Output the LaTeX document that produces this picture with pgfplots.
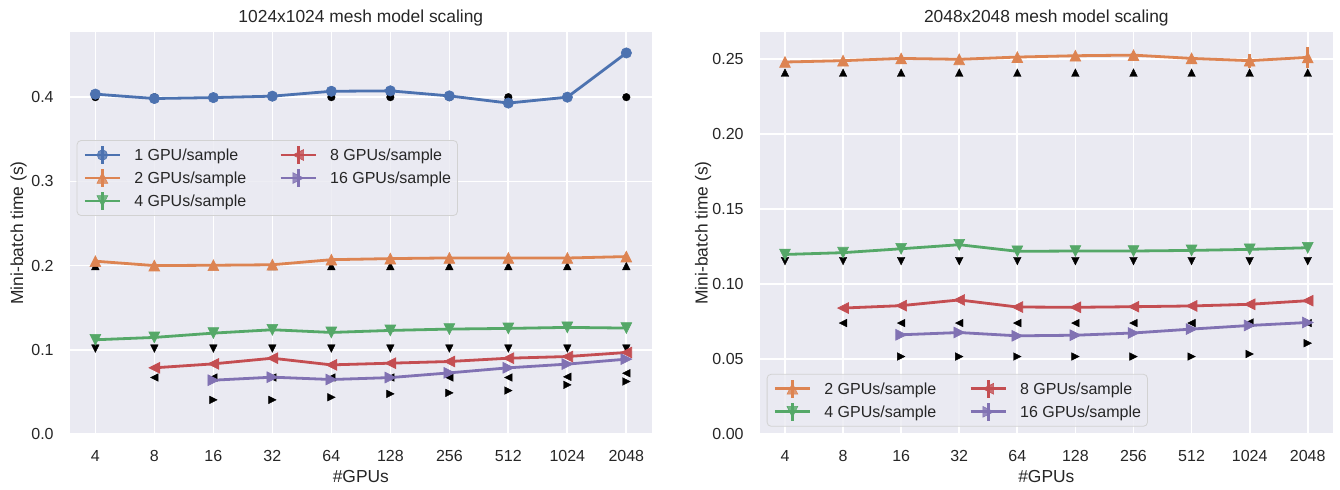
\documentclass[border=0pt]{standalone}
\usepackage{fontspec}
\setmainfont{Liberation Sans}
\usepackage{pgfplots}
\pgfplotsset{compat=1.18}
\definecolor{bg}{HTML}{EAEAF2}
\definecolor{txt}{HTML}{262626}
\definecolor{sbblue}{HTML}{4C72B0}
\definecolor{sborange}{HTML}{DD8452}
\definecolor{sbgreen}{HTML}{55A868}
\definecolor{sbred}{HTML}{C44E52}
\definecolor{sbpurple}{HTML}{8172B3}
\pgfdeclareplotmark{mtu}{\pgfpathmoveto{\pgfqpoint{0pt}{\pgfplotmarksize}}\pgfpathlineto{\pgfqpoint{-\pgfplotmarksize}{-\pgfplotmarksize}}\pgfpathlineto{\pgfqpoint{\pgfplotmarksize}{-\pgfplotmarksize}}\pgfpathclose\pgfusepathqfillstroke}
\pgfdeclareplotmark{mtd}{\pgfpathmoveto{\pgfqpoint{0pt}{-\pgfplotmarksize}}\pgfpathlineto{\pgfqpoint{-\pgfplotmarksize}{\pgfplotmarksize}}\pgfpathlineto{\pgfqpoint{\pgfplotmarksize}{\pgfplotmarksize}}\pgfpathclose\pgfusepathqfillstroke}
\pgfdeclareplotmark{mtl}{\pgfpathmoveto{\pgfqpoint{-\pgfplotmarksize}{0pt}}\pgfpathlineto{\pgfqpoint{\pgfplotmarksize}{\pgfplotmarksize}}\pgfpathlineto{\pgfqpoint{\pgfplotmarksize}{-\pgfplotmarksize}}\pgfpathclose\pgfusepathqfillstroke}
\pgfdeclareplotmark{mtr}{\pgfpathmoveto{\pgfqpoint{\pgfplotmarksize}{0pt}}\pgfpathlineto{\pgfqpoint{-\pgfplotmarksize}{\pgfplotmarksize}}\pgfpathlineto{\pgfqpoint{-\pgfplotmarksize}{-\pgfplotmarksize}}\pgfpathclose\pgfusepathqfillstroke}
\pgfplotsset{
  sb/.style={
    scale only axis, height=201pt,
    axis background/.style={fill=bg},
    axis line style={draw=none},
    grid=major, major grid style={white, line width=0.85pt},
    major tick length=0pt,
    xmin=-0.43, xmax=9.43, ymin=0,
    xtick={0,...,9}, xticklabels={4,8,16,32,64,128,256,512,1024,2048},
    tick label style={font=\fontsize{8}{9.6}\selectfont, text=txt},
    xticklabel style={anchor=base, yshift=-13.85pt, inner sep=0pt},
    yticklabel style={anchor=east, xshift=-8pt, inner sep=0pt},
    /pgf/number format/assume math mode=true,
    scaled y ticks=false,
    every axis title/.style={font=\fontsize{8.7}{10}\selectfont, text=txt, at={(axis description cs:0.5,1)}, anchor=base, yshift=4.65pt},
    xlabel={\#GPUs}, ylabel={Mini-batch time (s)},
    every axis x label/.style={font=\fontsize{8.7}{10}\selectfont, text=txt, at={(axis description cs:0.5,0)}, anchor=base, yshift=-24pt},
    legend style={font=\fontsize{8}{9.6}\selectfont, text=txt, fill=bg, fill opacity=0.8, text opacity=1, draw=gray!35, rounded corners=2pt, inner xsep=3.2pt, inner ysep=1.5pt,
      nodes={inner sep=0pt, text height=8.6pt, text depth=2.9pt},
      /tikz/every odd column/.style={column sep=6.5pt},
      /tikz/every even column/.style={column sep=16.5pt}},
    legend cell align=left, legend columns=2,
    legend image code/.code={\draw[mark=none] (8.75pt,-4.4pt) -- (8.75pt,4.4pt);
      \draw[mark repeat=2, mark phase=2] plot coordinates {(0pt,0pt)(8.75pt,0pt)(17.5pt,0pt)};},
  },
  sblue/.style={sbblue, line width=1.4pt, mark=*, mark size=2.6pt, mark options={line width=0.3pt, fill=sbblue}},
  sorange/.style={sborange, line width=1.4pt, mark=mtu, mark size=2.7pt, mark options={line width=0.3pt, fill=sborange}},
  sgreen/.style={sbgreen, line width=1.4pt, mark=mtd, mark size=2.7pt, mark options={line width=0.3pt, fill=sbgreen}},
  sred/.style={sbred, line width=1.4pt, mark=mtl, mark size=2.7pt, mark options={line width=0.3pt, fill=sbred}},
  spurple/.style={sbpurple, line width=1.4pt, mark=mtr, mark size=2.7pt, mark options={line width=0.3pt, fill=sbpurple}},
  ideal/.style={only marks, black, mark size=1.9pt, mark options={line width=0.2pt, fill=black}},
}
\begin{document}
\begin{tikzpicture}
\path[use as bounding box] (0,0) rectangle (670pt,244.5pt);
% ---------------- left ----------------
\begin{axis}[sb, at={(35pt,27.5pt)}, anchor=south west, width=290.85pt,
  ymax=0.4774, ytick={0,0.1,0.2,0.3,0.4},
  yticklabel style={/pgf/number format/.cd, fixed, fixed zerofill, precision=1},
  title={1024x1024 mesh model scaling},
  every axis y label/.style={font=\fontsize{8.7}{10}\selectfont, text=txt, at={(axis description cs:0,0.5)}, xshift=-25.75pt, rotate=90, anchor=center},
  legend style={at={(axis description cs:0.0115,0.731)}, anchor=north west}]
\addplot[ideal, mark=*, forget plot] coordinates {(0,0.4)(1,0.4)(2,0.4)(3,0.4)(4,0.4)(5,0.4)(6,0.4)(7,0.4)(8,0.4)(9,0.4)};
\addplot[ideal, mark=mtu, forget plot] coordinates {(0,0.1995)(1,0.1995)(2,0.1995)(3,0.1995)(4,0.1995)(5,0.1995)(6,0.1995)(7,0.1995)(8,0.1995)(9,0.1995)};
\addplot[ideal, mark=mtd, forget plot] coordinates {(0,0.1015)(1,0.1015)(2,0.1015)(3,0.1015)(4,0.1015)(5,0.1015)(6,0.1015)(7,0.1015)(8,0.1015)(9,0.1015)};
\addplot[ideal, mark=mtl, forget plot] coordinates {(1,0.0671)(2,0.0671)(3,0.0671)(4,0.0671)(5,0.0671)(6,0.0671)(7,0.0671)(8,0.0679)(9,0.0722)};
\addplot[ideal, mark=mtr, forget plot] coordinates {(2,0.0405)(3,0.0405)(4,0.0437)(5,0.0476)(6,0.0488)(7,0.0516)(8,0.0583)(9,0.0623)};
\addplot[sblue, forget plot] coordinates {(0,0.4036)(1,0.3984)(2,0.3995)(3,0.4012)(4,0.4070)(5,0.4075)(6,0.4015)(7,0.3930)(8,0.4000)(9,0.4525)};
\addplot[sorange, forget plot] coordinates {(0,0.2052)(1,0.2000)(2,0.2004)(3,0.2010)(4,0.2070)(5,0.2083)(6,0.2091)(7,0.2091)(8,0.2090)(9,0.2107)};
\addplot[sgreen, forget plot] coordinates {(0,0.1119)(1,0.1147)(2,0.1198)(3,0.1238)(4,0.1206)(5,0.1230)(6,0.1246)(7,0.1254)(8,0.1266)(9,0.1258)};
\addplot[sred, forget plot] coordinates {(1,0.0786)(2,0.0833)(3,0.0900)(4,0.0821)(5,0.0841)(6,0.0861)(7,0.0900)(8,0.0920)(9,0.0968)};
\addplot[spurple, forget plot] coordinates {(2,0.0639)(3,0.0675)(4,0.0647)(5,0.0670)(6,0.0726)(7,0.0786)(8,0.0830)(9,0.0889)};
\addlegendimage{sblue}\addlegendentry{1 GPU/sample}
\addlegendimage{sred}\addlegendentry{8 GPUs/sample}
\addlegendimage{sorange}\addlegendentry{2 GPUs/sample}
\addlegendimage{spurple}\addlegendentry{16 GPUs/sample}
\addlegendimage{sgreen}\addlegendentry{4 GPUs/sample}
\end{axis}
% ---------------- right ----------------
\begin{axis}[sb, at={(380pt,27.5pt)}, anchor=south west, width=286.35pt,
  ymax=0.2678, ytick={0,0.05,0.1,0.15,0.2,0.25},
  yticklabel style={/pgf/number format/.cd, fixed, fixed zerofill, precision=2},
  title={2048x2048 mesh model scaling},
  every axis y label/.style={font=\fontsize{8.7}{10}\selectfont, text=txt, at={(axis description cs:0,0.5)}, xshift=-28.5pt, rotate=90, anchor=center},
  legend style={at={(axis description cs:0.0117,0.0182)}, anchor=south west}]
\addplot[ideal, mark=mtu, forget plot] coordinates {(0,0.2407)(1,0.2407)(2,0.2407)(3,0.2407)(4,0.2407)(5,0.2407)(6,0.2407)(7,0.2407)(8,0.2407)(9,0.2407)};
\addplot[ideal, mark=mtd, forget plot] coordinates {(0,0.1152)(1,0.1152)(2,0.1152)(3,0.1152)(4,0.1152)(5,0.1152)(6,0.1152)(7,0.1152)(8,0.1152)(9,0.1152)};
\addplot[ideal, mark=mtl, forget plot] coordinates {(1,0.0739)(2,0.0739)(3,0.0739)(4,0.0739)(5,0.0739)(6,0.0739)(7,0.0739)(8,0.0743)(9,0.0739)};
\addplot[ideal, mark=mtr, forget plot] coordinates {(2,0.0516)(3,0.0516)(4,0.0516)(5,0.0516)(6,0.0516)(7,0.0516)(8,0.0533)(9,0.0605)};
\addplot[sorange, forget plot, error bars/.cd, y dir=both, y explicit, error mark=none, error bar style={line width=1.4pt}] coordinates {
 (0,0.2478) +- (0,0.0008) (1,0.2487) +- (0,0.0008) (2,0.2502) +- (0,0.0010) (3,0.2496) +- (0,0.0008) (4,0.2511) +- (0,0.0010)
 (5,0.2520) +- (0,0.0010) (6,0.2524) +- (0,0.0010) (7,0.2502) +- (0,0.0012) (8,0.2487) +- (0,0.0046) (9,0.2509) +- (0,0.0069)};
\addplot[sgreen, forget plot] coordinates {(0,0.1196)(1,0.1208)(2,0.1234)(3,0.1261)(4,0.1217)(5,0.1219)(6,0.1219)(7,0.1223)(8,0.1230)(9,0.1241)};
\addplot[sred, forget plot] coordinates {(1,0.0839)(2,0.0855)(3,0.0893)(4,0.0846)(5,0.0844)(6,0.0848)(7,0.0853)(8,0.0864)(9,0.0888)};
\addplot[spurple, forget plot] coordinates {(2,0.0661)(3,0.0676)(4,0.0654)(5,0.0658)(6,0.0673)(7,0.0699)(8,0.0723)(9,0.0743)};
\addlegendimage{sorange}\addlegendentry{2 GPUs/sample}
\addlegendimage{sred}\addlegendentry{8 GPUs/sample}
\addlegendimage{sgreen}\addlegendentry{4 GPUs/sample}
\addlegendimage{spurple}\addlegendentry{16 GPUs/sample}
\end{axis}
\end{tikzpicture}
\end{document}
